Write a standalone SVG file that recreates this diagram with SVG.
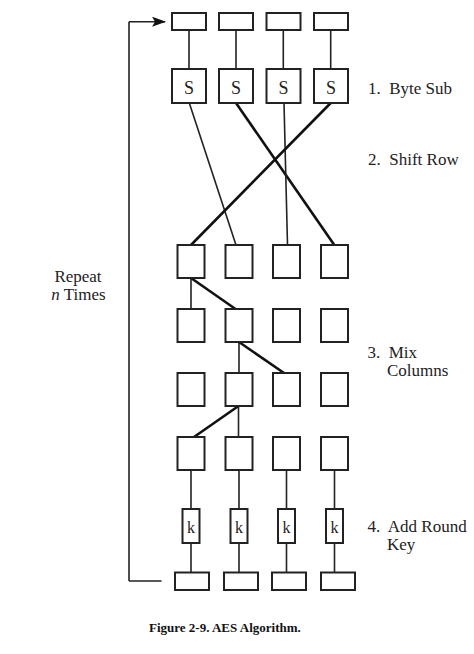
<svg xmlns="http://www.w3.org/2000/svg" width="474" height="654" viewBox="0 0 474 654">
<style>
.b{fill:#fff;stroke:#222;stroke-width:2}
.thin{stroke:#222;stroke-width:1.6;fill:none}
.thick{stroke:#111;stroke-width:2.6;fill:none}
.t{font-family:"Liberation Serif",serif;font-size:17px;fill:#222;white-space:pre}
.c{font-family:"Liberation Serif",serif;font-size:17px;fill:#222;text-anchor:middle}
.s{font-family:"Liberation Serif",serif;font-size:18px;fill:#222;text-anchor:middle}
.k{font-family:"Liberation Serif",serif;font-size:16px;fill:#222;text-anchor:middle}
.cap{font-family:"Liberation Serif",serif;font-size:13px;font-weight:bold;fill:#111}
</style>
<defs>
<marker id="ah" markerWidth="14" markerHeight="10" refX="13" refY="5" orient="auto" markerUnits="userSpaceOnUse">
<path d="M0,0 L14,5 L0,10 L3,5 Z" fill="#111"/>
</marker>
</defs>
<rect width="474" height="654" fill="#fff"/>
<g id="connectors">
<path class="thin" d="M129,581 L161.5,581 M129,581 L129,21.7"/>
<path class="thin" d="M129,21.7 L165,21.7" marker-end="url(#ah)" stroke-width="2"/>
<path class="thin" d="M189,30 V69 M236,30 V69 M283.3,30 V69 M330.7,30 V69"/>
<path class="thin" d="M189.3,103 L236,245"/>
<path class="thick" d="M236,103 L334.3,245"/>
<path class="thin" d="M284,103 L287.5,245"/>
<path class="thick" d="M330.7,103 L191,245"/>
<path class="thin" d="M191,278 V309"/>
<path class="thick" d="M191,278 L235.5,309"/>
<path class="thin" d="M239,342 V373"/>
<path class="thick" d="M239,342 L284,373"/>
<path class="thin" d="M238.5,406 V437"/>
<path class="thick" d="M238.5,406 L194,437"/>
<path class="thin" d="M191,470 V509 M239,470 V509 M286.5,470 V509 M334.5,470 V509"/>
<path class="thin" d="M191,543 V572.5 M239,543 V572.5 M286.5,543 V572.5 M334.5,543 V572.5"/>
</g>
<g id="input">
<rect class="b" x="172" y="13" width="34" height="17"/>
<rect class="b" x="219" y="13" width="34" height="17"/>
<rect class="b" x="266.5" y="13" width="34" height="17"/>
<rect class="b" x="314" y="13" width="34" height="17"/>
</g>
<g id="sbox">
<rect class="b" x="172" y="69" width="34" height="34"/>
<rect class="b" x="219" y="69" width="34" height="34"/>
<rect class="b" x="266.5" y="69" width="34" height="34"/>
<rect class="b" x="314" y="69" width="34" height="34"/>
<text class="s" x="189" y="93.5">S</text>
<text class="s" x="236" y="93.5">S</text>
<text class="s" x="283.5" y="93.5">S</text>
<text class="s" x="331" y="93.5">S</text>
</g>
<g id="shiftrow">
<rect class="b" x="177.5" y="245" width="27" height="33"/>
<rect class="b" x="225.5" y="245" width="27" height="33"/>
<rect class="b" x="273" y="245" width="27" height="33"/>
<rect class="b" x="321" y="245" width="27" height="33"/>
</g>
<g id="mix1">
<rect class="b" x="177.5" y="309" width="27" height="33"/>
<rect class="b" x="225.5" y="309" width="27" height="33"/>
<rect class="b" x="273" y="309" width="27" height="33"/>
<rect class="b" x="321" y="309" width="27" height="33"/>
</g>
<g id="mix2">
<rect class="b" x="177.5" y="373" width="27" height="33"/>
<rect class="b" x="225.5" y="373" width="27" height="33"/>
<rect class="b" x="273" y="373" width="27" height="33"/>
<rect class="b" x="321" y="373" width="27" height="33"/>
</g>
<g id="mix3">
<rect class="b" x="177.5" y="437" width="27" height="33"/>
<rect class="b" x="225.5" y="437" width="27" height="33"/>
<rect class="b" x="273" y="437" width="27" height="33"/>
<rect class="b" x="321" y="437" width="27" height="33"/>
</g>
<g id="keys">
<rect class="b" x="182.5" y="509" width="17" height="34"/>
<rect class="b" x="230.5" y="509" width="17" height="34"/>
<rect class="b" x="278" y="509" width="17" height="34"/>
<rect class="b" x="326" y="509" width="17" height="34"/>
<text class="k" x="191" y="533">k</text>
<text class="k" x="239" y="533">k</text>
<text class="k" x="286.5" y="533">k</text>
<text class="k" x="334.5" y="533">k</text>
</g>
<g id="output">
<rect class="b" x="175" y="572.5" width="34" height="17.5"/>
<rect class="b" x="224" y="572.5" width="34" height="17.5"/>
<rect class="b" x="272" y="572.5" width="34" height="17.5"/>
<rect class="b" x="321" y="572.5" width="34" height="17.5"/>
</g>
<g id="labels">
<text class="t" x="368" y="94">1.  Byte Sub</text>
<text class="t" x="368" y="165">2.  Shift Row</text>
<text class="t" x="367.5" y="358">3.  Mix</text>
<text class="t" x="387" y="376">Columns</text>
<text class="t" x="367.5" y="532">4.  Add Round</text>
<text class="t" x="387" y="550">Key</text>
<text class="c" x="78" y="281.5">Repeat</text>
<text class="c" x="78.5" y="300"><tspan font-style="italic">n</tspan> Times</text>
<text class="cap" x="149" y="631.5">Figure 2-9. AES Algorithm.</text>
</g>
</svg>
